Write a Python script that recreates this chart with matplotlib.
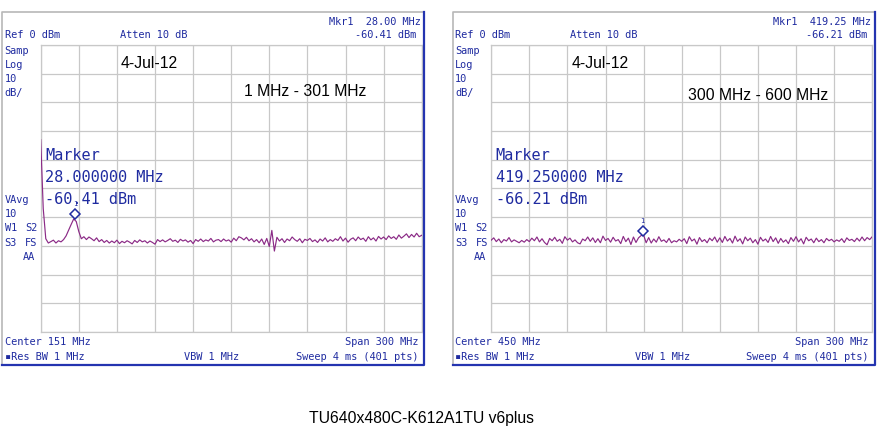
import numpy as np
import matplotlib
matplotlib.use("Agg")
import matplotlib.pyplot as plt
from matplotlib.lines import Line2D
from matplotlib.transforms import offset_copy

# figure size in pixels
W, H = 877, 443

# sweep 1: 1 MHz - 301 MHz, trace (every 2 MHz)
start_1, stop_1 = 1, 301
trace_1 = [
    -33.0, -57.0, -67.5, -69.0, -68.5, -68.0, -69.0, -68.2, -68.6, -67.8,
    -66.5, -64.5, -62.5, -60.6, -61.5, -65.0, -67.5, -66.8, -67.8, -66.9,
    -67.5, -68.2, -67.2, -68.5, -67.8, -68.8, -68.1, -69.0, -68.3, -68.9,
    -68.0, -69.2, -68.4, -68.9, -68.2, -68.7, -69.3, -68.1, -68.8, -67.9,
    -68.6, -68.2, -69.0, -68.3, -68.8, -69.4, -67.8, -68.5, -67.9, -68.6,
    -68.1, -67.5, -68.4, -68.0, -68.8, -67.7, -68.3, -67.9, -68.7, -68.1,
    -69.2, -67.8, -68.4, -67.6, -68.5, -67.9, -68.3, -67.4, -68.6, -68.0,
    -67.8, -68.5, -67.6, -68.3, -67.9, -68.7, -67.3, -68.2, -66.8, -67.2,
    -67.9, -67.0, -68.2, -67.5, -68.6, -67.8, -68.9, -67.6, -69.5, -67.4,
    -70.2, -64.6, -71.8, -67.0, -68.3, -67.5, -68.8, -67.6, -68.2, -66.9,
    -67.8, -68.4, -67.5, -68.9, -67.7, -68.1, -67.4, -68.5, -67.9, -68.8,
    -67.6, -68.3, -67.2, -68.6, -67.8, -68.4, -67.5, -68.1, -66.8, -68.3,
    -67.3, -68.7, -67.7, -67.2, -68.2, -66.9, -67.8, -67.3, -68.4, -66.8,
    -67.9, -67.2, -68.3, -66.7, -67.6, -66.9, -67.8, -66.5, -67.4, -66.8,
    -67.7, -66.2, -67.3, -66.6, -65.8, -67.1, -66.0, -66.9, -65.6, -66.8,
    -66.3,
]

# sweep 2: 300 MHz - 600 MHz
start_2, stop_2 = 300, 600
trace_2 = [
    -68.0, -67.2, -68.5, -67.6, -68.9, -67.8, -68.3, -67.1, -68.6, -67.9,
    -68.4, -68.9, -68.1, -68.7, -67.8, -68.5, -67.3, -68.2, -66.9, -68.6,
    -67.5, -68.8, -69.6, -67.4, -68.2, -67.0, -68.4, -67.7, -69.1, -66.8,
    -68.0, -67.3, -68.6, -67.9, -68.9, -69.3, -67.6, -68.2, -66.9, -68.4,
    -67.2, -68.8, -67.5, -68.9, -66.6, -68.1, -67.4, -68.7, -67.0, -68.3,
    -67.8, -69.2, -66.7, -68.5, -67.3, -69.5, -66.9, -68.8, -67.2, -66.4,
    -66.2, -68.9, -67.1, -69.0, -67.6, -68.7, -66.8, -68.4, -67.9, -68.8,
    -67.4, -68.9, -68.2, -68.6, -67.7, -68.4, -67.5, -69.2, -66.8, -68.3,
    -67.6, -69.4, -67.1, -68.5, -67.8, -68.9, -67.3, -68.2, -66.9, -68.7,
    -67.2, -68.8, -66.7, -68.3, -67.4, -69.0, -66.6, -68.4, -67.5, -69.3,
    -66.9, -68.2, -67.3, -68.9, -67.8, -69.4, -67.0, -68.3, -67.6, -68.8,
    -66.7, -68.5, -67.2, -69.1, -67.4, -68.7, -67.9, -69.2, -67.1, -68.4,
    -66.8, -68.6, -67.5, -69.3, -67.0, -68.2, -67.6, -68.9, -67.3, -68.5,
    -67.8, -68.9, -67.4, -68.2, -67.7, -68.6, -67.9, -68.4, -67.5, -68.8,
    -67.2, -68.1, -67.7, -68.5, -67.3, -68.3, -66.9, -68.2, -67.1, -67.8,
    -66.8,
]

marker_f = [28.0, 419.25]
marker_db = [-60.41, -66.21]
marker_f_txt = ["28.000000 MHz", "419.250000 MHz"]
marker_db_txt = ["-60.41 dBm", "-66.21 dBm"]
mkr_hdr = ["Mkr1  28.00 MHz", "Mkr1  419.25 MHz"]
centers = ["Center 151 MHz", "Center 450 MHz"]
ranges = ["1 MHz - 301 MHz", "300 MHz - 600 MHz"]
range_pos = [(244, 91.7), (237, 95)]
date_txt = "4-Jul-12"
caption = "TU640x480C-K612A1TU v6plus"

BLUE = "#1f2ba0"
TRACE = "#8b2a86"
GRID = "#c8c8c8"
MONO = ["DejaVu Sans Mono", "DejaVu Sans"]
ARIAL = "Liberation Sans"

fig = plt.figure(figsize=(W / 100, H / 100), dpi=100)
fig.patch.set_facecolor("white")


def fx(x):
    return x / W


def fy(y):
    return 1 - y / H


def txt(x, y, s, size=7.4, color=BLUE, ha="left", family=MONO):
    fig.text(fx(x), fy(y), s, fontsize=size, color=color, ha=ha, va="center",
             family=family)


def frame(x0, y0, x1, y1):
    fig.add_artist(Line2D([fx(x0), fx(x0), fx(x1)], [fy(y1), fy(y0), fy(y0)],
                          color="#b8b8b8", lw=1.2))
    fig.add_artist(Line2D([fx(x1), fx(x1), fx(x0)], [fy(y0), fy(y1), fy(y1)],
                          color="#2434b0", lw=1.6))


sweeps = [(start_1, stop_1, trace_1), (start_2, stop_2, trace_2)]

for i, (f0, f1, vals) in enumerate(sweeps):
    dx = 450.5 * i
    frame(2 + dx, 12, 424 + dx, 364.5)

    ax = fig.add_axes([fx(40.7 + dx), fy(332), 381 / W, 287 / H])
    ax.set_xlim(f0, f1)
    ax.set_ylim(-100, 0)
    ax.set_xticks(np.linspace(f0, f1, 11))
    ax.set_yticks(np.arange(-100, 1, 10))
    ax.tick_params(length=0, labelbottom=False, labelleft=False)
    ax.grid(True, color=GRID, lw=0.9)
    for s in ax.spines.values():
        s.set_color(GRID)
        s.set_linewidth(0.9)
        s.set_zorder(1)
    ax.set_facecolor("white")

    freqs = np.linspace(f0, f1, len(vals))
    ax.plot(freqs, vals, color=TRACE, lw=0.85, zorder=3)

    # marker diamond sits just above the trace point
    up = offset_copy(ax.transData, fig=fig, y=4, units="dots")
    ax.plot([marker_f[i]], [marker_db[i]], marker="D", ms=5, mfc="white",
            mec=BLUE, mew=1.1, transform=up, clip_on=False, zorder=4)
    lab = offset_copy(ax.transData, fig=fig, y=14, units="dots")
    ax.text(marker_f[i], marker_db[i], "1", fontsize=5, color=BLUE,
            ha="center", va="center", transform=lab, family=MONO)

    # header lines
    txt(420.7 + dx, 21.7, mkr_hdr[i], ha="right")
    txt(4.7 + dx, 35, "Ref 0 dBm")
    txt(120 + dx, 35, "Atten 10 dB")
    txt(416.7 + dx, 35, marker_db_txt[i], ha="right")

    # left column
    for y, s in [(50.7, "Samp"), (65, "Log"), (79, "10"), (93.3, "dB/"),
                 (200, "VAvg"), (214.3, "10")]:
        txt(4.7 + dx, y, s)
    txt(4.7 + dx, 228.3, "W1")
    txt(25 + dx, 228.3, "S2")
    txt(4.7 + dx, 242.7, "S3")
    txt(25 + dx, 242.7, "FS")
    txt(23 + dx, 257.3, "AA")

    # footer lines
    txt(4.7 + dx, 341.7, centers[i])
    txt(418.3 + dx, 341.7, "Span 300 MHz", ha="right")
    txt(4.7 + dx, 357.3, "\u25aaRes BW 1 MHz")
    txt(184.3 + dx, 357.3, "VBW 1 MHz")
    txt(418.3 + dx, 357.3, "Sweep 4 ms (401 pts)", ha="right")

    # marker readout
    txt(45 + dx, 156, "Marker", size=11)
    txt(45 + dx, 177.3, marker_f_txt[i], size=11)
    txt(45 + dx, 199, marker_db_txt[i], size=11)

    # notes typed on the screen
    txt(120.7 + dx, 63.3, date_txt, size=11.3, color="black", family=ARIAL)
    rx, ry = range_pos[i]
    txt(rx + dx, ry, ranges[i], size=11.3, color="black", family=ARIAL)

txt(309.3, 418.3, caption, size=11.3, color="black", family=ARIAL)

fig.savefig("out.png", dpi=100, facecolor="white")
